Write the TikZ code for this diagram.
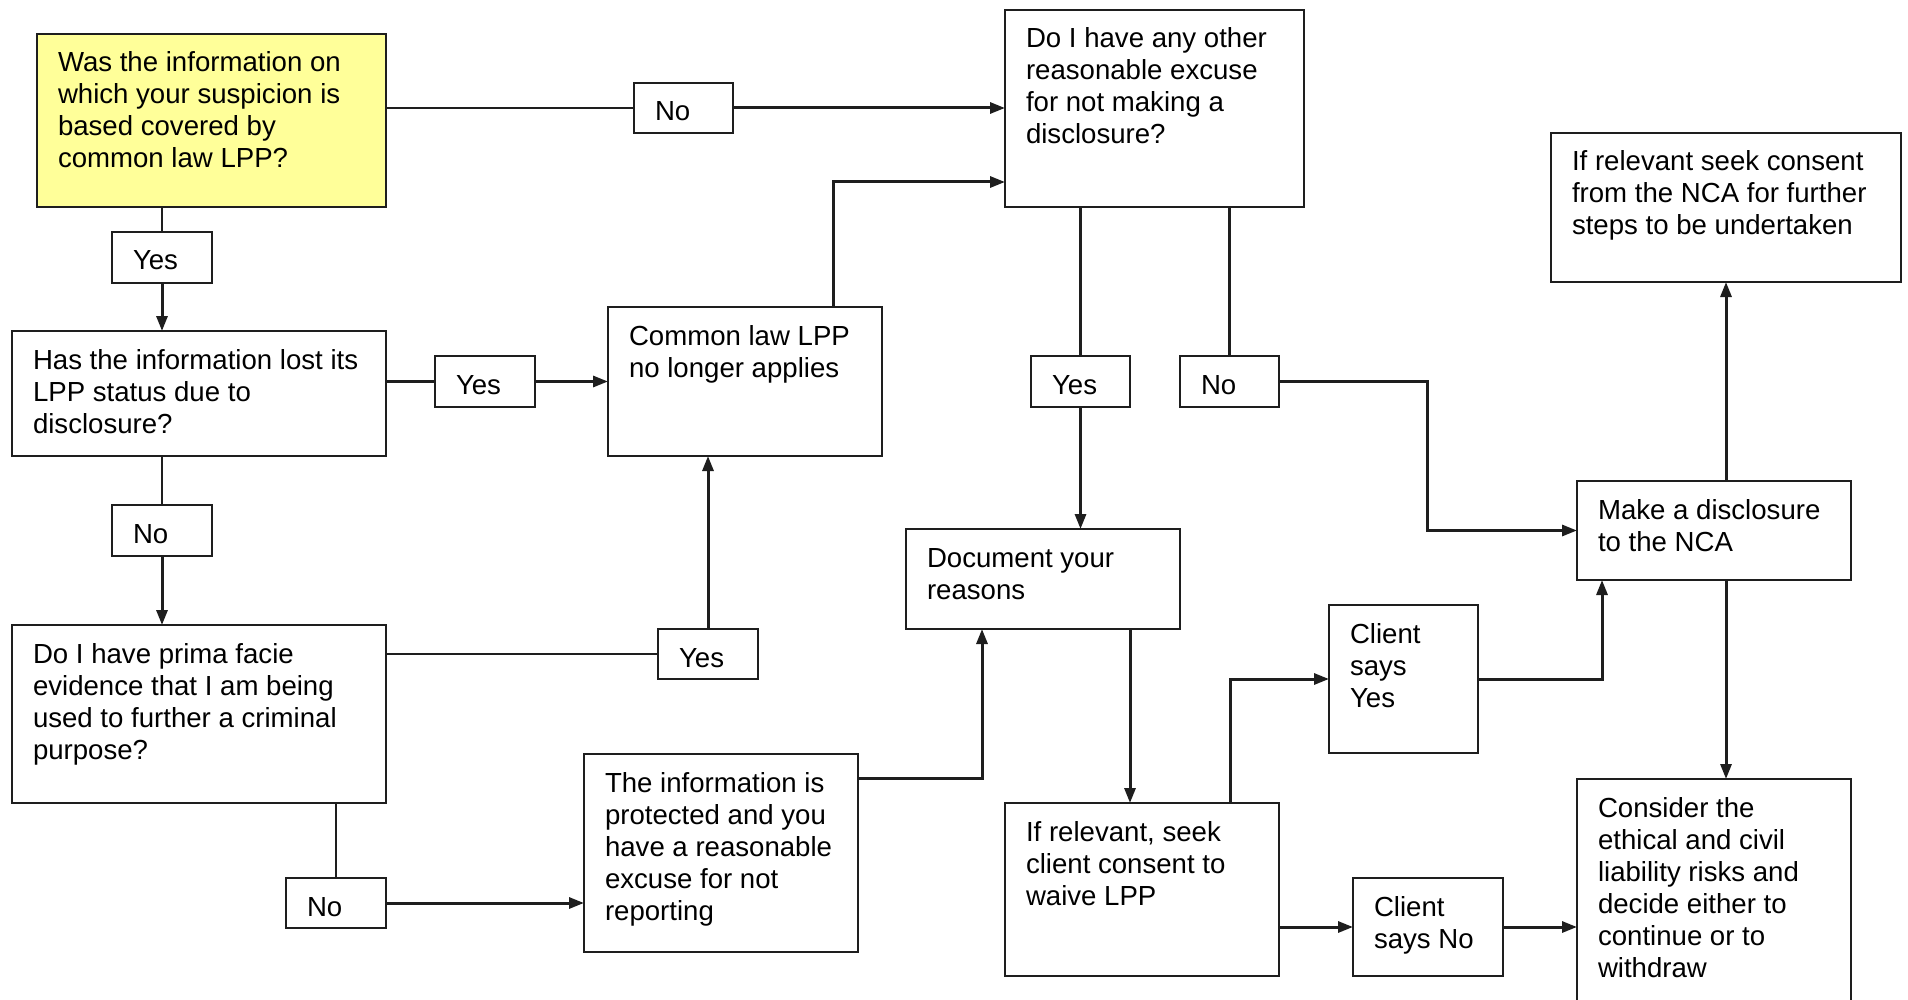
\documentclass[tikz,border=0pt]{standalone}
\usepackage{fontspec}
\setmainfont{Liberation Sans}
\usepackage{tikz}
\usetikzlibrary{arrows.meta}
\definecolor{qyellow}{HTML}{FFFF99}
\definecolor{qline}{HTML}{1E1E1E}
\newcommand{\boxtext}[3]{\parbox[t][#2][t]{#1}{\raggedright\leftskip=21pt\rule{0pt}{38pt}#3}}
\tikzset{
    box/.style={
        draw=qline, rectangle, line width=2.2pt,
        inner sep=0pt, outer sep=0pt, anchor=north west,
        font=\fontsize{27.6}{32}\selectfont, text=black
    }
}

\begin{document}
\begin{tikzpicture}[
        x=1pt, y=-1pt,
        >={Triangle[length=15pt,width=11pt]},
        line/.style={draw=qline, line width=2.2pt},
        arr/.style={->, draw=qline, line width=3pt}
      ]
    \useasboundingbox (0,0) rectangle (1908,1000);

    \node[box,fill=qyellow] (Q1) at (37,34) {\boxtext{349pt}{173pt}{Was the information on\\which your suspicion is\\based covered by\\common law LPP?}};
    \node[box] (Q2)   at (12,331)   {\boxtext{374pt}{125pt}{Has the information lost its\\LPP status due to\\disclosure?}};
    \node[box] (Q4)   at (12,625)   {\boxtext{374pt}{178pt}{Do I have prima facie\\evidence that I am being\\used to further a criminal\\purpose?}};
    \node[box] (CL)   at (608,307)  {\boxtext{274pt}{149pt}{Common law LPP\\no longer applies}};
    \node[box] (Prot) at (584,754)  {\boxtext{274pt}{198pt}{The information is\\protected and you\\have a reasonable\\excuse for not\\reporting}};
    \node[box] (Q3)   at (1005,10)  {\boxtext{299pt}{197pt}{Do I have any other\\reasonable excuse\\for not making a\\disclosure?}};
    \node[box] (Doc)  at (906,529)  {\boxtext{274pt}{100pt}{Document your\\reasons}};
    \node[box] (Rel)  at (1005,803) {\boxtext{274pt}{173pt}{If relevant, seek\\client consent to\\waive LPP}};
    \node[box] (CYes) at (1329,605) {\boxtext{149pt}{148pt}{Client\\says\\Yes}};
    \node[box] (CNo)  at (1353,878) {\boxtext{150pt}{98pt}{Client\\says No}};
    \node[box] (NCA)  at (1551,133) {\boxtext{350pt}{149pt}{If relevant seek consent\\from the NCA for further\\steps to be undertaken}};
    \node[box] (Make) at (1577,481) {\boxtext{274pt}{99pt}{Make a disclosure\\to the NCA}};
    \node[box] (Cons) at (1577,779) {\boxtext{274pt}{261pt}{Consider the\\ethical and civil\\liability risks and\\decide either to\\continue or to\\withdraw}};

    \node[box] (L1) at (634,83)   {\boxtext{99pt}{50pt}{No}};
    \node[box] (L2) at (112,232)  {\boxtext{100pt}{51pt}{Yes}};
    \node[box] (L3) at (435,356)  {\boxtext{100pt}{51pt}{Yes}};
    \node[box] (L4) at (112,505)  {\boxtext{100pt}{51pt}{No}};
    \node[box] (L5) at (658,629)  {\boxtext{100pt}{50pt}{Yes}};
    \node[box] (L6) at (286,878)  {\boxtext{100pt}{50pt}{No}};
    \node[box] (L7) at (1031,356) {\boxtext{99pt}{51pt}{Yes}};
    \node[box] (L8) at (1180,356) {\boxtext{99pt}{51pt}{No}};

    \coordinate (D1) at ([xshift=-50pt]Doc.south east);
    \coordinate (R1) at ([xshift=-49pt]Rel.north east);

    \draw[line] (L1.west -| Q1.east) -- (L1.west);
    \draw[arr]  (L1.east) -- (L1.east -| Q3.west);
    \draw[line] (L2.north |- Q1.south) -- (L2.north);
    \draw[arr]  (L2.south) -- (L2.south |- Q2.north);
    \draw[line] (L3.west -| Q2.east) -- (L3.west);
    \draw[arr]  (L3.east) -- (L3.east -| CL.west);
    \draw[line] (L4.north |- Q2.south) -- (L4.north);
    \draw[arr]  (L4.south) -- (L4.south |- Q4.north);
    \draw[line] (L5.west -| Q4.east) -- (L5.west);
    \draw[arr]  (L5.north) -- (L5.north |- CL.south);
    \draw[line] (L6.north |- Q4.south) -- (L6.north);
    \draw[arr]  (L6.east) -- (L6.east -| Prot.west);
    \draw[arr]  ([yshift=-24pt]Prot.north east) -| ([xshift=76pt]Doc.south west);
    \draw[arr]  ([xshift=225pt]CL.north west) |- ([yshift=25pt]Q3.south west);
    \draw[line] (L7.north |- Q3.south) -- (L7.north);
    \draw[arr]  (L7.south) -- (L7.south |- Doc.north);
    \draw[line] (L8.north |- Q3.south) -- (L8.north);
    \draw[arr]  (L8.east) -| ([xshift=-150pt]Make.west) -- (Make.west);
    \draw[arr]  (D1) -- (D1 |- Rel.north);
    \draw[arr]  (R1) |- (CYes.west);
    \draw[arr]  (CYes.east) -| ([xshift=25pt]Make.south west);
    \draw[arr]  (CNo.west -| Rel.east) -- (CNo.west);
    \draw[arr]  (CNo.east) -- (CNo.east -| Cons.west);
    \draw[arr]  (NCA.south |- Make.north) -- (NCA.south);
    \draw[arr]  (NCA.south |- Make.south) -- (NCA.south |- Cons.north);

\end{tikzpicture}
\end{document}
